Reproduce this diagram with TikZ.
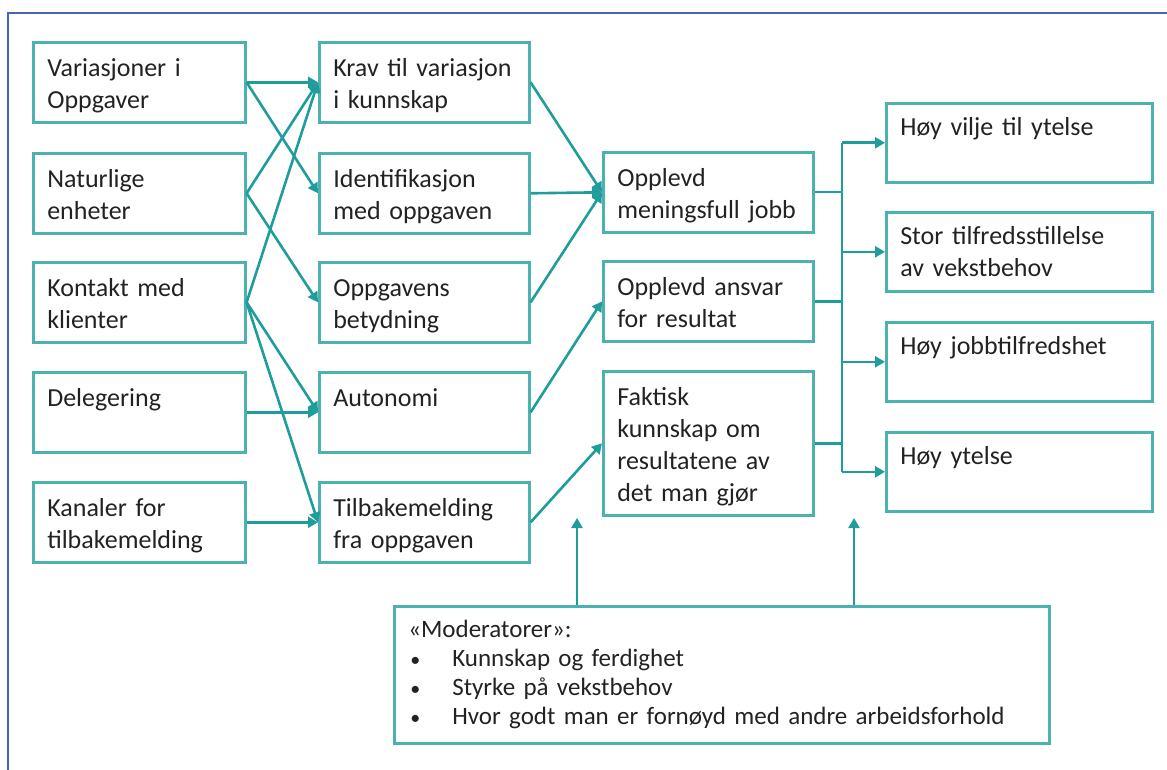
\documentclass[tikz,border=0pt]{standalone}
\usepackage{fontspec}
\setmainfont{Carlito}
\usetikzlibrary{arrows.meta}
\definecolor{cframe}{HTML}{4467B2}
\definecolor{cteal}{HTML}{4BB2AF}
\definecolor{carrow}{HTML}{1F9C9C}
\definecolor{ctext}{HTML}{222222}
\hyphenpenalty=10000
\exhyphenpenalty=10000
\newcommand{\punkt}{\makebox[44pt][l]{\hspace{2pt}\scalebox{0.8}{•}}}
\tikzset{
  every picture/.style={x=1pt, y=-1pt, line width=2.6pt},
  box/.style={draw=cteal, anchor=north west, align=left, text width=#1, inner xsep=14pt, inner ysep=16pt,
    text height=18pt, text depth=30pt, font=\fontsize{26}{32}\selectfont, text=ctext},
  box/.default=182pt,
  outbox/.style={box=238pt, inner ysep=14pt, text depth=33pt},
  arrow/.style={-{Triangle[length=10pt, width=11pt]}, draw=carrow, line width=2.6pt},
  link/.style={draw=carrow, line width=2.4pt},
}

\begin{document}
\begin{tikzpicture}
  \useasboundingbox (0,0) rectangle (1167,770);
  \draw[cframe, line width=1.8pt] (8,770) |- (1167,13);
  % job characteristics
  \node[box=184pt] (var) at (32,41) {Variasjoner~i\\Oppgaver};
  \node[box=184pt] (nat) at (32,152) {Naturlige\\enheter};
  \node[box=184pt] (kont) at (32,261) {Kontakt~med\\klienter};
  \node[box=184pt] (deleg) at (32,371) {Delegering};
  \node[box=184pt] (kanal) at (32,481) {Kanaler~for\\tilbakemelding};
  % core dimensions
  \node[box] (krav) at (318,41) {Krav~til~variasjon\\i~kunnskap};
  \node[box] (ident) at (318,152) {Identifikasjon\\med~oppgaven};
  \node[box] (betyd) at (318,261) {Oppgavens\\betydning};
  \node[box] (auton) at (318,371) {Autonomi};
  \node[box] (tilbake) at (318,481) {Tilbakemelding\\fra~oppgaven};
  % psychological states
  \node[box] (mening) at (602,151) {Opplevd\\meningsfull~jobb};
  \node[box] (ansvar) at (602,260) {Opplevd~ansvar\\for~resultat};
  \node[box, text depth=94pt] (kunnskap) at (602,370) {Faktisk\\kunnskap~om\\resultatene~av\\det~man~gjør};
  % outcomes
  \node[outbox] (vilje) at (885,102) {Høy~vilje~til~ytelse};
  \node[outbox] (tilfreds) at (885,211) {Stor~tilfredsstillelse\\av~vekstbehov};
  \node[outbox] (jobbtil) at (885,321) {Høy~jobbtilfredshet};
  \node[outbox] (ytelse) at (885,431) {Høy~ytelse};
  % moderators
  \node[box=627pt, inner ysep=14pt, text height=17pt, text depth=92pt, font=\fontsize{25}{29}\selectfont]
    (moderator) at (393,605) {«Moderatorer»:\\
    \punkt Kunnskap~og~ferdighet\\
    \punkt Styrke~på~vekstbehov\\
    \punkt Hvor~godt~man~er~fornøyd~med~andre~arbeidsforhold};

  \draw[arrow] (var.east) -- (krav.west); \draw[arrow] (var.east) -- (ident.west);
  \draw[arrow] (nat.east) -- (krav.west); \draw[arrow] (nat.east) -- (betyd.west);
  \draw[arrow] (kont.east) -- (krav.west); \draw[arrow] (kont.east) -- (auton.west);
  \draw[arrow] (kont.east) -- (tilbake.west);
  \draw[arrow] (deleg.east) -- (auton.west); \draw[arrow] (kanal.east) -- (tilbake.west);

  \draw[arrow] (krav.east) -- (mening.west); \draw[arrow] (ident.east) -- (mening.west);
  \draw[arrow] (betyd.east) -- (mening.west);
  \draw[arrow] (auton.east) -- (ansvar.west); \draw[arrow] (tilbake.east) -- (kunnskap.west);

  \coordinate (bus) at (842,0);
  \draw[link] (mening.east) -- (mening.east -| bus);
  \draw[link] (ansvar.east) -- (ansvar.east -| bus);
  \draw[link] (kunnskap.east) -- (kunnskap.east -| bus);
  \draw[link] (vilje.west -| bus) -- (ytelse.west -| bus);
  \foreach \n in {vilje, tilfreds, jobbtil, ytelse}
    \draw[arrow] (\n.west -| bus) -- (\n.west);

  \coordinate (m1) at (577,518); \coordinate (m2) at (854,518);
  \draw[arrow] (m1 |- moderator.north) -- (m1);
  \draw[arrow] (m2 |- moderator.north) -- (m2);
\end{tikzpicture}
\end{document}
